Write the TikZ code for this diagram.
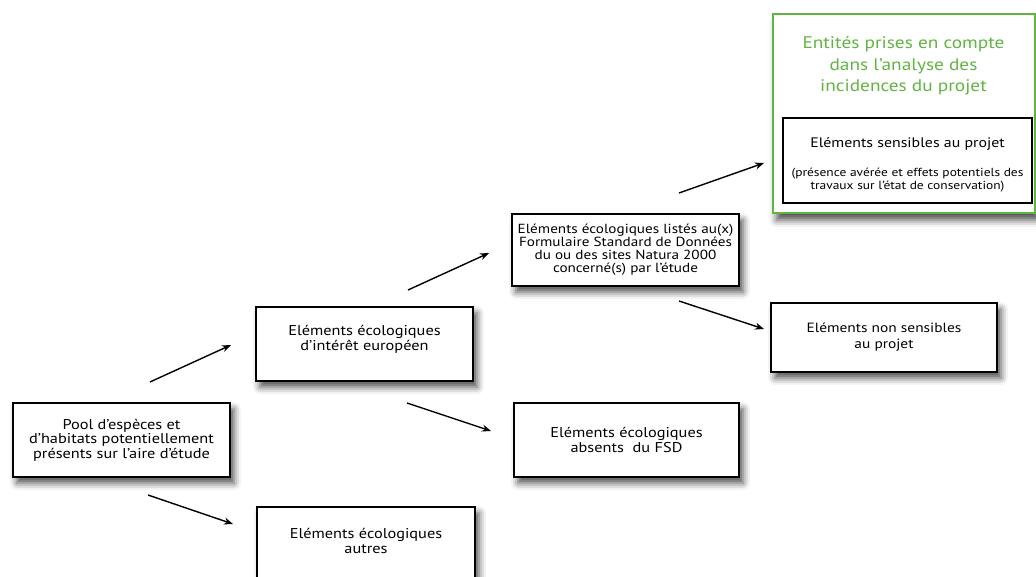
\documentclass[tikz,border=0pt]{standalone}
\usepackage{fontspec}
\setmainfont{PT Sans}[FakeStretch=1.15]
\usetikzlibrary{arrows.meta,shadows.blur}
\definecolor{natgreen}{RGB}{98,180,66}
\tikzset{
  x=1pt,y=-1pt,
  boxnode/.style={draw=black,line width=1.2pt,fill=white,align=center,
    font=\fontsize{14.2}{14.5}\selectfont,inner sep=1pt,
    blur shadow={shadow xshift=4pt,shadow yshift=-6pt,shadow blur radius=7pt,shadow opacity=70}},
  flow/.style={line width=1.4pt,-{Stealth[length=9pt,width=7pt]}},
}
\begin{document}
\begin{tikzpicture}
\useasboundingbox (0,0) rectangle (1036,577);
% green frame
\node[draw=natgreen,line width=2pt,fill=white,minimum width=262,minimum height=199,inner sep=0,
  blur shadow={shadow xshift=4pt,shadow yshift=-7pt,shadow blur radius=7pt,shadow opacity=70}]
  (grn) at (903.5,113.5) {};
\node[align=center,text=natgreen,font=\fontsize{16.8}{21.5}\selectfont] (grntitle) at (903.5,66) {Entités prises en compte\\dans l’analyse des\\incidences du projet};
\node[draw=black,line width=1.2pt,fill=white,minimum width=249,minimum height=85,inner sep=0] (sens) at (907.5,160.5) {};
\node[font=\fontsize{13.8}{15}\selectfont] (senstitle) at (907.5,144) {Eléments sensibles au projet};
\node[align=center,font=\fontsize{11.7}{13}\selectfont] (senssub) at (907.5,180.5) {(présence avérée et effets potentiels des\\travaux sur l’état de conservation)};
% boxes
\node[boxnode,minimum width=217,minimum height=74] (pool) at (121.5,440) {Pool d’espèces et\\d’habitats potentiellement\\présents sur l’aire d’étude};
\node[boxnode,minimum width=217,minimum height=74,text depth=12pt] (inter) at (364.5,344) {Eléments écologiques\\d’intérêt européen};
\node[boxnode,minimum width=227,minimum height=72,inner sep=0pt,font=\fontsize{13.2}{13}\selectfont] (listes) at (625.5,250) {Eléments écologiques listés au(x)\\Formulaire Standard de Données\\du ou des sites Natura 2000\\concerné(s) par l’étude};
\node[boxnode,minimum width=225,minimum height=74] (absents) at (626.5,440) {Eléments écologiques\\absents~ du FSD};
\node[boxnode,minimum width=218,minimum height=80,text depth=12pt] (autres) at (366,547) {Eléments écologiques\\autres};
\node[boxnode,minimum width=226,minimum height=69,text depth=4pt,font=\fontsize{13.4}{16}\selectfont] (nonsens) at (884,337.5) {Eléments non sensibles\\au projet};
% arrow end points
\coordinate (a1s) at (150,382); \coordinate (a1e) at (231,345);
\coordinate (a2s) at (148,495); \coordinate (a2e) at (233,524);
\coordinate (a3s) at (408,290); \coordinate (a3e) at (489,253);
\coordinate (a4s) at (407,403); \coordinate (a4e) at (491,431);
\coordinate (a5s) at (679,193); \coordinate (a5e) at (764,163);
\coordinate (a6s) at (679,301); \coordinate (a6e) at (764,329);
\foreach \s/\e in {a1s/a1e,a2s/a2e,a3s/a3e,a4s/a4e,a5s/a5e,a6s/a6e}{
  \draw[flow] (\s) -- (\e);
}
\end{tikzpicture}
\end{document}
